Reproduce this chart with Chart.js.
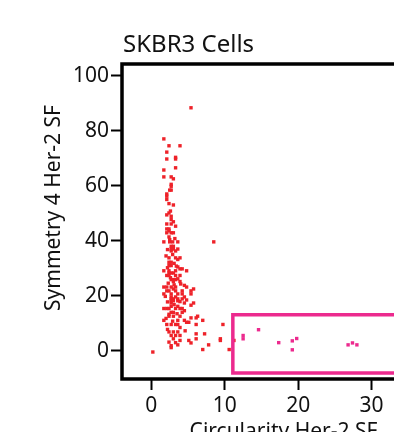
<!DOCTYPE html>
<html>
<head>
<meta charset="utf-8">
<script src="https://cdn.jsdelivr.net/npm/chart.js@4"></script>
<style>
    html, body { margin: 0; padding: 0; overflow: hidden; background: #fff; width: 394px; height: 432px; }
    #wrap { position: absolute; left: 0; top: 0; width: 460px; height: 460px; }
</style>
</head>
<body>
<div id="wrap"><canvas id="chart" width="460" height="460"></canvas></div>
<script>
// ── Data ──────────────────────────────────────────────────────────────────────

const TITLE  = 'SKBR3 Cells';
const X_LABEL = 'Circularity Her-2 SF';
const Y_LABEL = 'Symmetry 4 Her-2 SF';

const xTicks = [0, 10, 20, 30, 40];
const yTicks = [0, 20, 40, 60, 80, 100];

// cells outside the gate (red)
const cellsX = [
    5.4, 1.7, 2.4, 3.9, 2.1, 2.1, 3.3, 3.3, 3.3, 1.7, 1.7, 2.7, 3.0, 2.7, 2.7, 2.5, 2.7, 2.1, 2.1, 2.1,
    2.4, 2.4, 2.1, 2.7, 2.7, 3.0, 2.1, 2.7, 3.3, 2.1, 2.4, 2.4, 2.1, 2.7, 3.0, 2.4, 2.5, 1.7, 2.5, 2.9,
    3.6, 8.5, 2.7, 3.0, 2.7, 3.0, 3.6, 2.7, 3.3, 2.4, 3.3, 3.9, 3.6, 2.4, 2.7, 2.4, 2.7, 3.6, 3.9, 4.2,
    1.7, 2.4, 3.3, 4.8, 2.4, 2.7, 3.0, 2.1, 2.4, 3.3, 3.9, 2.7, 3.0, 3.3, 3.0, 3.9, 4.5, 1.7, 2.1, 2.7,
    3.3, 4.8, 3.0, 5.75, 2.1, 2.4, 3.3, 4.2, 5.4, 1.7, 2.7, 3.6, 4.2, 5.4, 2.7, 3.3, 4.5, 2.7, 3.0, 3.6,
    4.2, 2.7, 3.0, 3.6, 2.7, 4.5, 5.75, 5.4, 2.7, 3.6, 1.7, 2.1, 2.4, 3.3, 3.9, 4.2, 4.5, 2.7, 3.0, 4.2,
    2.4, 3.0, 3.9, 6.3, 5.4, 6.1, 1.7, 3.6, 4.5, 7.0, 4.8, 5.1, 2.1, 2.7, 3.3, 3.6, 6.1, 9.75, 2.4, 3.0,
    3.6, 2.7, 3.3, 3.9, 6.1, 7.25, 3.0, 6.1, 9.4, 9.4, 11.25, 3.9, 5.1, 5.4, 2.7, 2.7, 3.6, 7.8, 0.2, 7.0,
    10.6, 2.0, 2.9, 3.1, 2.2, 3.4, 2.6, 3.6, 4.0, 2.3, 3.1, 1.9, 2.2, 3.1, 3.9, 4.8, 2.4, 3.5, 2.0, 2.9,
    3.9, 2.2, 4.6, 2.4, 3.3, 2.6, 3.0, 2.2, 3.2
];
const cellsY = [
    88.3, 77.0, 74.5, 74.5, 72.2, 69.7, 70.3, 69.7, 66.5, 65.7, 63.2, 63.2, 62.5, 60.5, 59.8, 58.4, 58.4, 57.0, 56.2, 55.0,
    53.5, 50.1, 49.4, 48.9, 47.7, 46.9, 46.1, 46.1, 45.3, 44.3, 44.3, 43.6, 42.9, 42.9, 42.9, 41.4, 40.4, 39.6, 39.6, 39.6,
    39.6, 39.6, 38.0, 38.0, 37.0, 37.0, 37.0, 36.3, 36.3, 33.8, 33.8, 33.8, 33.2, 32.2, 32.2, 31.0, 31.0, 30.5, 29.8, 29.8,
    29.1, 29.1, 29.1, 29.1, 28.3, 28.3, 28.3, 27.4, 27.4, 27.4, 27.4, 25.9, 25.9, 25.9, 25.2, 25.2, 23.8, 23.2, 23.2, 23.2,
    23.2, 23.2, 22.5, 22.5, 21.8, 21.8, 21.8, 21.8, 21.8, 20.7, 20.7, 20.7, 20.7, 20.7, 19.6, 19.6, 19.6, 18.9, 18.9, 18.9,
    18.9, 18.2, 18.2, 18.2, 17.4, 17.4, 17.4, 16.6, 16.2, 16.2, 15.4, 15.4, 15.4, 15.4, 15.4, 15.4, 14.6, 14.0, 14.0, 14.0,
    12.6, 12.6, 12.6, 12.6, 12.0, 12.0, 11.1, 11.1, 11.1, 11.1, 10.4, 10.4, 9.6, 9.6, 9.6, 9.6, 9.6, 9.6, 6.9, 6.9,
    6.9, 5.6, 5.6, 5.6, 6.2, 6.2, 4.4, 4.4, 4.4, 3.8, 3.8, 3.8, 3.8, 2.9, 1.9, 1.2, 2.2, 2.2, -0.4, 0.5,
    0.5, 34.5, 35.0, 31.8, 30.2, 30.8, 26.6, 26.2, 24.3, 24.6, 24.0, 19.8, 17.8, 16.8, 17.9, 18.5, 13.3, 13.5, 11.8, 10.8,
    8.5, 7.8, 7.3, 3.2, 3.0, 50.8, 53.0, 36.8, 40.8
];

// cells inside the gate (magenta)
const gatedX = [12.5, 12.5, 14.6, 17.35, 19.2, 19.8, 19.2, 26.8, 27.4, 28.0];
const gatedY = [5.6, 4.4, 7.7, 3.0, 3.65, 4.5, 0.4, 2.2, 2.9, 2.2];

// gate outline corners
const gateX = [38, 11.1, 11.1, 38];
const gateY = [13.1, 13.1, -8.0, -8.0];

// ── Chart ─────────────────────────────────────────────────────────────────────

const RED     = '#ee2229';
const MAGENTA = '#ec2a8e';
const FONT    = '"Noto Sans", "DejaVu Sans", sans-serif';

const toPoints = (xs, ys) => xs.map((x, i) => ({ x, y: ys[i] }));

// frame + free-standing texts
const framePlugin = {
    id: 'frame',
    afterDraw(chart) {
        const { ctx, chartArea: a } = chart;
        ctx.save();
        ctx.strokeStyle = '#000';
        ctx.lineWidth = 3.5;
        ctx.strokeRect(a.left, a.top, a.right - a.left, a.bottom - a.top);

        ctx.fillStyle = '#111';
        ctx.textBaseline = 'alphabetic';
        ctx.font = `24px ${FONT}`;
        ctx.textAlign = 'left';
        ctx.fillText(TITLE, a.left + 1, 52);

        ctx.font = `21px ${FONT}`;
        ctx.textAlign = 'center';
        ctx.fillText(X_LABEL, (a.left + a.right) / 2, 438);

        ctx.translate(60, 208);
        ctx.rotate(-Math.PI / 2);
        ctx.fillText(Y_LABEL, 0, 0);
        ctx.restore();
    }
};

const axisTicks = (values) => (scale) => { scale.ticks = values.map(v => ({ value: v })); };

new Chart(document.getElementById('chart'), {
    type: 'scatter',
    data: {
        datasets: [
            {
                label: 'gate', type: 'line', data: toPoints(gateX, gateY),
                borderColor: MAGENTA, borderWidth: 3.5, pointRadius: 0, fill: false, tension: 0
            },
            {
                label: 'cells', data: toPoints(cellsX, cellsY),
                backgroundColor: RED, borderWidth: 0, pointStyle: 'rect', pointRadius: 2.4
            },
            {
                label: 'gated', data: toPoints(gatedX, gatedY),
                backgroundColor: MAGENTA, borderWidth: 0, pointStyle: 'rect', pointRadius: 2.4
            }
        ]
    },
    options: {
        responsive: false,
        animation: false,
        devicePixelRatio: 1,
        layout: { padding: { top: 64, right: 15, left: 0, bottom: 0 } },
        plugins: { legend: { display: false }, tooltip: { enabled: false }, title: { display: false } },
        scales: {
            x: {
                type: 'linear', min: -4, max: 40,
                afterBuildTicks: axisTicks(xTicks),
                afterFit: (s) => { s.height = 81; },
                border: { display: false },
                grid: { drawOnChartArea: false, drawTicks: true, tickLength: 11, tickWidth: 2, tickColor: '#000' },
                ticks: { color: '#111', padding: 3, font: { family: FONT, size: 21 } }
            },
            y: {
                type: 'linear', min: -10.2, max: 104.2,
                afterBuildTicks: axisTicks(yTicks),
                afterFit: (s) => { s.width = 122; },
                border: { display: false },
                grid: { drawOnChartArea: false, drawTicks: true, tickLength: 11, tickWidth: 2, tickColor: '#000' },
                ticks: { color: '#111', padding: 2, font: { family: FONT, size: 21 } }
            }
        }
    },
    plugins: [framePlugin]
});
</script>
</body>
</html>
